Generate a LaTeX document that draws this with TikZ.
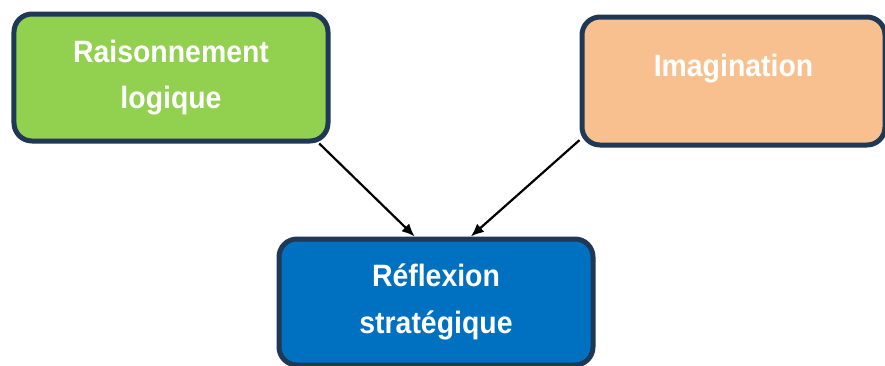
\documentclass[tikz,border=0pt]{standalone}
\usepackage{fontspec}
\setmainfont{Liberation Sans}[FakeStretch=0.92]
\usetikzlibrary{arrows.meta}
\definecolor{boxborder}{HTML}{1F3856}
\definecolor{boxgreen}{HTML}{92D050}
\definecolor{boxorange}{HTML}{F8C08E}
\definecolor{boxblue}{HTML}{0070C0}
\tikzset{
  boxfont/.style={text=white, font=\fontsize{31}{47}\selectfont\bfseries},
  box/.style={draw=boxborder, line width=5bp, rounded corners=18bp, boxfont, align=center},
  link/.style={-{Latex[length=13bp,width=11bp]}, line width=2.2bp}
}

\begin{document}
\begin{tikzpicture}[x=1bp,y=-1bp]
        \useasboundingbox (0,0) rectangle (885,365);

        % Left box
        \node[box, fill=boxgreen, minimum width=314bp, minimum height=127bp] (logic) at (171,77.5) {Raisonnement\\logique};

        % Right box
        \node[box, fill=boxorange, minimum width=303bp, minimum height=128bp] (imag) at (733.5,81) {};
        \node[boxfont] (imaglabel) at ([yshift=12bp]imag.center) {Imagination};

        % Bottom box
        \node[box, fill=boxblue, minimum width=314bp, minimum height=126bp] (strat) at (436,302) {R\'eflexion\\strat\'egique};

        % Arrows
        \draw[link] (logic.-24.6) -- (strat.108.7);
        \draw[link] (imag.201.3) -- (strat.62.4);

    \end{tikzpicture}
\end{document}
